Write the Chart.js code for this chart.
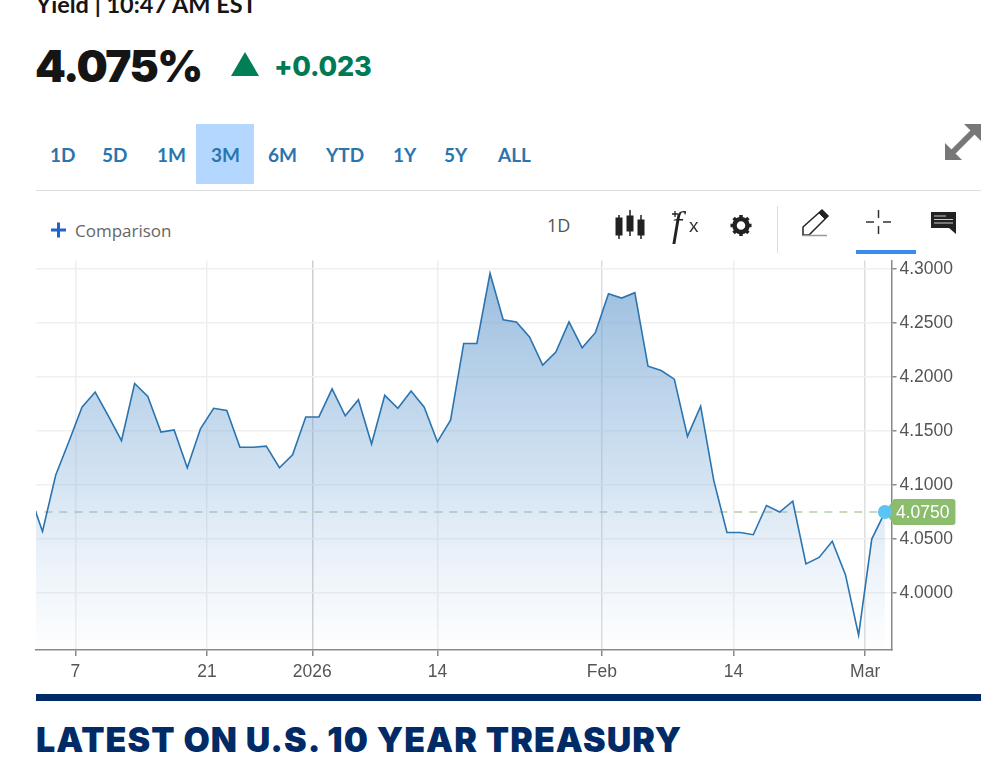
<!DOCTYPE html>
<html>
<head>
<meta charset="utf-8">
<title>U.S. 10 Year Treasury</title>
<script src="https://cdn.jsdelivr.net/npm/chart.js@4"></script>
<style>
html, body { margin: 0; padding: 0; background: #fff; overflow: hidden; }
#page { position: relative; width: 984px; height: 769px; overflow: hidden; font-family: Lato, sans-serif; }
#page > * { position: absolute; }
#yieldLine { left: 36px; top: -10px; font-size: 23.5px; font-weight: 700; color: #151515; white-space: nowrap; }
#price { left: 35px; top: 39px; font: 900 44px Inter, sans-serif; letter-spacing: -1.5px; color: #151515; }
#change { left: 274px; top: 50px; font: 800 27px Inter, sans-serif; letter-spacing: -0.2px; color: #007a55; }
#tabHi { left: 196px; top: 124px; width: 58px; height: 60px; background: #b3d7ff; }
.tab { top: 143px; font-size: 19px; font-weight: 700; color: #2b75ad; }
#rule { left: 36px; top: 190px; width: 945px; height: 1px; background: #ddd; }
#comparison { left: 75px; top: 219px; font: 17px "Open Sans", sans-serif; color: #666; }
#interval { left: 547px; top: 213px; font: 18px "Open Sans", sans-serif; color: #555; }
#chartWrap { left: 0; top: 247px; }
#bar { left: 36px; top: 694px; width: 945px; height: 7px; background: #002b67; }
#latest { left: 36px; top: 719px; font: 900 34px Inter, sans-serif; letter-spacing: 1.05px; color: #002b67; white-space: nowrap; }
svg { left: 0; top: 0; }
</style>
</head>
<body>
<div id="page">
  <div id="yieldLine">Yield | 10:47 AM EST</div>
  <div id="price">4.075%</div>
  <div id="change">+0.023</div>
  <div id="tabHi"></div>
  <div class="tab" style="left:50px">1D</div>
  <div class="tab" style="left:102px">5D</div>
  <div class="tab" style="left:157px">1M</div>
  <div class="tab" style="left:211px">3M</div>
  <div class="tab" style="left:268px">6M</div>
  <div class="tab" style="left:326px">YTD</div>
  <div class="tab" style="left:393px">1Y</div>
  <div class="tab" style="left:444px">5Y</div>
  <div class="tab" style="left:498px">ALL</div>
  <div id="rule"></div>
  <div id="comparison">Comparison</div>
  <div id="interval">1D</div>
  <div id="chartWrap"><canvas id="yieldChart" width="984" height="443"></canvas></div>
  <svg width="984" height="260">
    <polygon points="231,76 259,76 245,52" fill="#007f56"/>
    <path d="M51 230H66M58.500 222.500V237.500" stroke="#1f62d0" stroke-width="3"/>
    <!-- expand -->
    <path d="M951 154L975 130" stroke="#777" stroke-width="6"/>
    <polygon points="945,160 945,143 962,160" fill="#777"/>
    <polygon points="981,124 981,141 964,124" fill="#777"/>
    <!-- candles -->
    <g fill="#222" stroke="#222">
      <path d="M619 215V239M630 210V236M641 215V239" stroke-width="1.500"/>
      <rect x="616" y="218" width="6" height="17"/>
      <rect x="627" y="216" width="6" height="15"/>
      <rect x="638" y="220" width="6" height="15"/>
    </g>
    <!-- studies -->
    <path d="M672 214H678M675 211V217" stroke="#222" stroke-width="1.300"/>
    <text x="672" y="236" font-family="Liberation Serif" font-style="italic" font-size="36" fill="#222">f</text>
    <text x="689" y="232" font-family="Liberation Sans" font-size="19" fill="#333">x</text>
    <!-- gear -->
    <circle cx="741" cy="225.500" r="6.500" fill="none" stroke="#222" stroke-width="4.500"/>
    <path d="M741 215V236M730.500 225.500H751.500M733.600 218.100L748.400 232.900M748.400 218.100L733.600 232.900" stroke="#222" stroke-width="3.500" stroke-dasharray="3.500 14 3.500"/>
    <line x1="777.500" y1="206" x2="777.500" y2="253" stroke="#ddd"/>
    <!-- pencil -->
    <path d="M803 235V227L822 210L828 216L809 235Z" fill="none" stroke="#222" stroke-width="1.500"/>
    <path d="M819 213L822 210L828 216L825 219Z" fill="#222" stroke="#222"/>
    <line x1="803" y1="235.500" x2="827" y2="235.500" stroke="#999" stroke-width="1.500"/>
    <!-- crosshair -->
    <path d="M866 222H874M883 222H891M878.500 210V218M878.500 226V234" stroke="#333" stroke-width="1.500"/>
    <rect x="856" y="250" width="60" height="4" fill="#3b8cf0"/>
    <!-- comments -->
    <path d="M931 212H956V234L949 228H931Z" fill="#222"/>
    <path d="M934 216H946M934 219.500H953M934 223H953" stroke="#ccc" stroke-width="1"/>
  </svg>
  <div id="bar"></div>
  <div id="latest">LATEST ON U.S. 10 YEAR TREASURY</div>
</div>
<script>
// weekday sessions shown in the 3M window
const sessions = [
  '12-02', '12-03', '12-04', '12-05', '12-08', '12-09', '12-10', '12-11', '12-12', '12-15', '12-16',
  '12-17', '12-18', '12-19', '12-22', '12-23', '12-24', '12-25', '12-26', '12-29', '12-30', '12-31',
  '01-01', '01-02', '01-05', '01-06', '01-07', '01-08', '01-09', '01-12', '01-13', '01-14', '01-15',
  '01-16', '01-19', '01-20', '01-21', '01-22', '01-23', '01-26', '01-27', '01-28', '01-29', '01-30',
  '02-02', '02-03', '02-04', '02-05', '02-06', '02-09', '02-10', '02-11', '02-12', '02-13', '02-16',
  '02-17', '02-18', '02-19', '02-20', '02-23', '02-24', '02-25', '02-26', '02-27', '03-02', '03-03'
];
const yields = [
  4.092, 4.057, 4.109, 4.140, 4.172, 4.186, 4.164, 4.141, 4.194, 4.182, 4.149,
  4.151, 4.116, 4.152, 4.171, 4.169, 4.135, 4.135, 4.136, 4.116, 4.128, 4.163,
  4.163, 4.189, 4.164, 4.179, 4.138, 4.183, 4.171, 4.187, 4.172, 4.140, 4.160,
  4.231, 4.231, 4.296, 4.253, 4.251, 4.237, 4.211, 4.223, 4.251, 4.227, 4.241,
  4.277, 4.273, 4.278, 4.210, 4.206, 4.198, 4.145, 4.173, 4.104, 4.056, 4.056,
  4.054, 4.081, 4.075, 4.085, 4.027, 4.033, 4.048, 4.017, 3.961, 4.050, 4.075
];
const yTicks = [4.0, 4.05, 4.1, 4.15, 4.2, 4.25, 4.3];
const xTickLabels = ['7', '21', '2026', '14', 'Feb', '14', 'Mar'];
const xTickSessions = [3.5, 13.5, 21.5, 31, 43.5, 53.5, 63.5]; // position in sessions, weekends fall between two
const xTickColors = ['#eeeeee', '#eeeeee', '#d0d0d0', '#eeeeee', '#dddddd', '#eeeeee', '#dddddd'];

const lastIndex = sessions.length - 1;
const lastValue = yields[lastIndex];

function areaGradient(context) {
    const area = context.chart.chartArea;
    if (!area) return 'rgba(120,165,210,0.5)';
    const g = context.chart.ctx.createLinearGradient(0, area.top, 0, area.bottom);
    g.addColorStop(0, 'rgba(110,160,208,0.72)');
    g.addColorStop(0.55, 'rgba(130,175,218,0.36)');
    g.addColorStop(1, 'rgba(170,200,232,0.02)');
    return g;
}

// green tag with the last price on the right axis
const priceTag = {
    id: 'priceTag',
    beforeDatasetsDraw(chart) {
        const ctx = chart.ctx;
        const y = chart.scales.y.getPixelForValue(lastValue);
        const x = chart.scales.x.getPixelForValue(lastIndex);
        ctx.save();
        ctx.fillStyle = '#8cbd6e';
        ctx.beginPath();
        ctx.moveTo(x, y);
        ctx.lineTo(x + 9, y - 13);
        ctx.arcTo(x + 70.5, y - 13, x + 70.5, y + 13, 3);
        ctx.arcTo(x + 70.5, y + 13, x + 9, y + 13, 3);
        ctx.lineTo(x + 9, y + 13);
        ctx.closePath();
        ctx.fill();
        ctx.fillStyle = '#fff';
        ctx.font = '17.5px "Liberation Sans"';
        ctx.textBaseline = 'middle';
        ctx.textAlign = 'left';
        ctx.fillText(lastValue.toFixed(4), x + 11, y + 1);
        ctx.restore();
    }
};

new Chart(document.getElementById('yieldChart'), {
    type: 'line',
    data: {
        datasets: [{
            label: 'Yield',
            data: yields.map((v, i) => ({ x: i, y: v })),
            borderColor: '#2a74b0',
            borderWidth: 1.6,
            tension: 0,
            fill: 'start',
            backgroundColor: areaGradient,
            pointRadius: ctx => (ctx.dataIndex === lastIndex ? 7 : 0),
            pointBackgroundColor: '#5cc3f5',
            pointBorderWidth: 0,
            clip: { left: 0, top: false, right: false, bottom: 0 },
            order: 1
        }, {
            label: 'Last',
            data: [{ x: 0, y: lastValue }, { x: lastIndex, y: lastValue }],
            borderColor: '#b4cfa2',
            borderWidth: 1.4,
            borderDash: [8, 7],
            pointRadius: 0,
            fill: false,
            order: 2
        }]
    },
    options: {
        responsive: false,
        animation: false,
        layout: { padding: { left: 36, top: 5, right: 0, bottom: 0 } },
        plugins: { legend: { display: false }, tooltip: { enabled: false } },
        scales: {
            x: {
                type: 'linear',
                min: 0.506,
                max: 65.5,
                afterBuildTicks: scale => { scale.ticks = xTickSessions.map(v => ({ value: v })); },
                afterFit: scale => { scale.height = 40; },
                ticks: {
                    autoSkip: false,
                    maxRotation: 0,
                    padding: 6,
                    color: '#555',
                    font: { family: 'Liberation Sans', size: 17.5 },
                    callback: val => xTickLabels[xTickSessions.indexOf(val)]
                },
                grid: {
                    color: ctx => xTickColors[ctx.index],
                    lineWidth: 1.5,
                    tickLength: 6,
                    tickColor: '#888'
                },
                border: { color: '#888', width: 1.5 }
            },
            y: {
                position: 'right',
                min: 3.9473,
                max: 4.3078,
                afterBuildTicks: scale => { scale.ticks = yTicks.map(v => ({ value: v })); },
                afterFit: scale => { scale.width = 92.5; },
                ticks: {
                    padding: 3,
                    color: '#555',
                    font: { family: 'Liberation Sans', size: 17.5 },
                    callback: val => val.toFixed(4)
                },
                grid: {
                    color: '#f0f0f0',
                    lineWidth: 1.5,
                    tickLength: 5,
                    tickColor: '#888'
                },
                border: { color: '#888', width: 1.5 }
            }
        }
    },
    plugins: [priceTag]
});
</script>
</body>
</html>
